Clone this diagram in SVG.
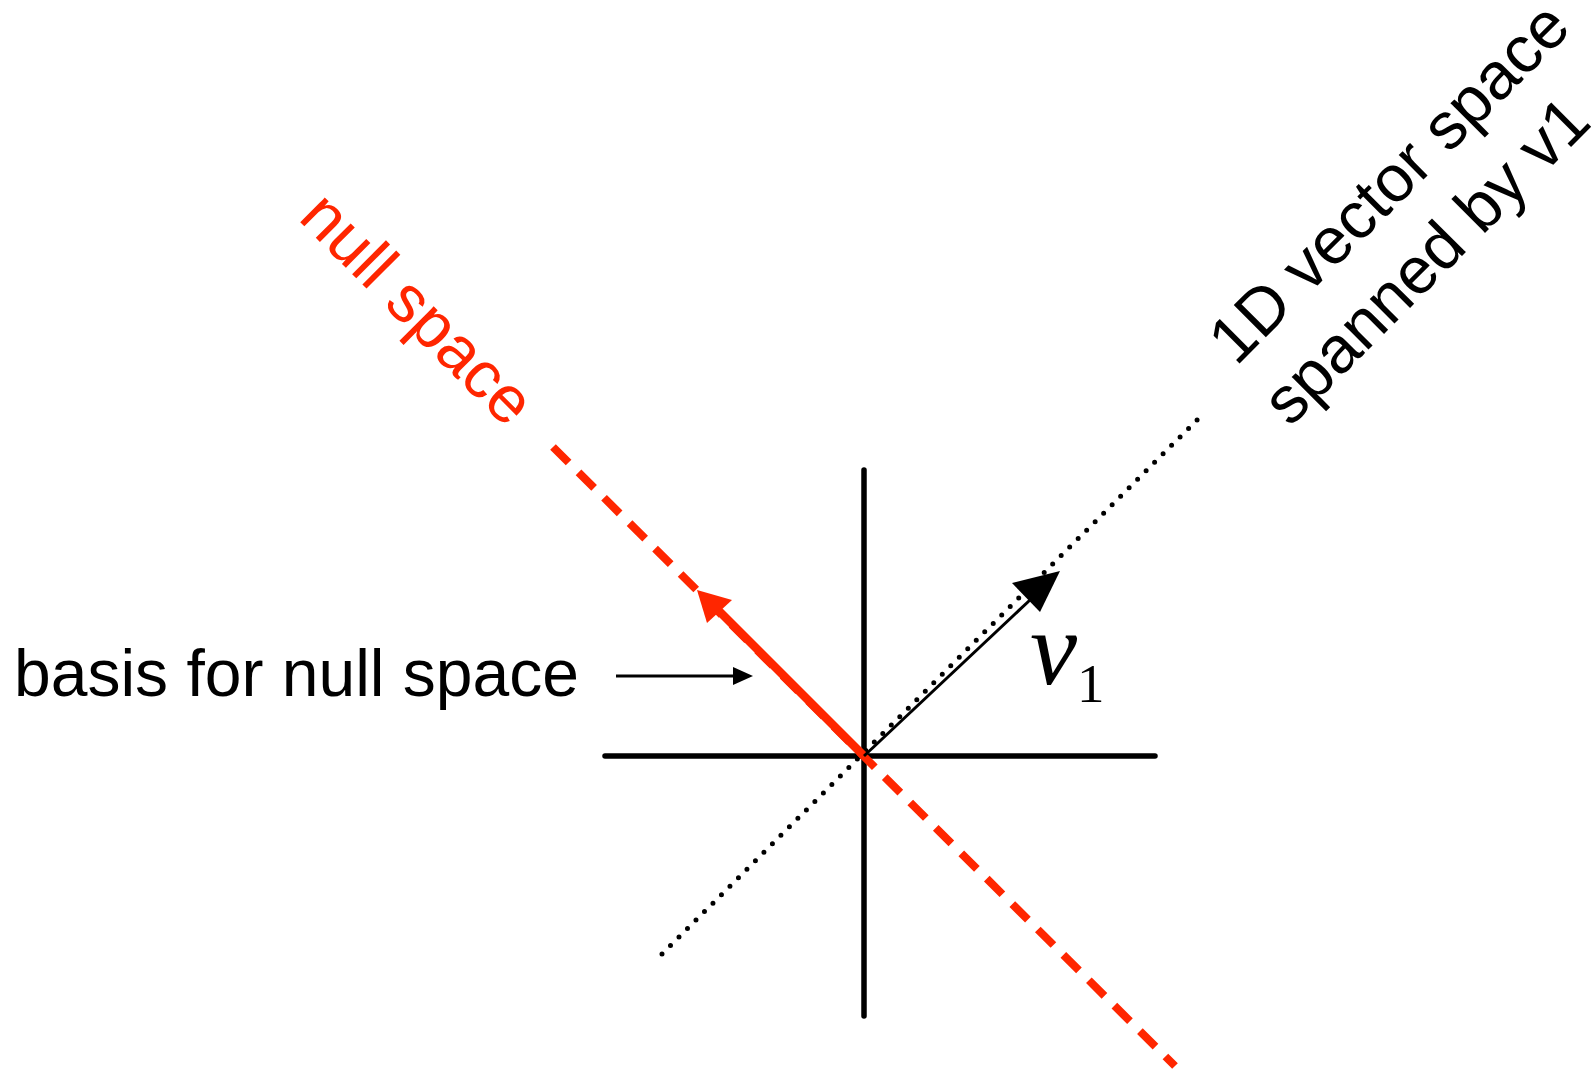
<svg xmlns="http://www.w3.org/2000/svg" width="1592" height="1070" viewBox="0 0 1592 1070">
  <style>
    .axis { stroke: #000; stroke-width: 5.5; stroke-linecap: round; fill: none; }
    .dotted { stroke: #000; stroke-width: 5; stroke-linecap: round; stroke-dasharray: 0 12; fill: none; }
    .reddash { stroke: #ff2600; stroke-width: 8; stroke-dasharray: 22 14; fill: none; }
    .label { font-family: "Liberation Sans", Arial, Helvetica, sans-serif; font-size: 66px; }
    .math { font-family: "Liberation Serif", "Times New Roman", serif; }
  </style>
  <rect width="1592" height="1070" fill="#fff"/>
  <g id="axes">
    <line class="axis" x1="864" y1="470" x2="864" y2="1016"/>
    <line class="axis" x1="605" y1="756" x2="1155" y2="756"/>
  </g>
  <g id="connectors">
    <line id="span-line" class="dotted" x1="662" y1="954" x2="1201" y2="416"/>
    <line id="null-line" class="reddash" x1="553" y1="447" x2="1175" y2="1066"/>
    <g id="null-basis-arrow">
      <line x1="864" y1="756" x2="716" y2="608" stroke="#ff2600" stroke-width="8.5"/>
      <polygon points="697,590 707,623 732,600" fill="#ff2600"/>
    </g>
    <g id="v1-arrow">
      <line x1="864" y1="756" x2="1030" y2="600" stroke="#000" stroke-width="3"/>
      <polygon points="1060,571 1012,583 1040,612" fill="#000"/>
    </g>
    <g id="pointer-arrow">
      <line x1="616" y1="676" x2="736" y2="676" stroke="#000" stroke-width="3"/>
      <polygon points="753,676 733,667 733,685" fill="#000"/>
    </g>
  </g>
  <g id="label-basis">
    <text class="label" x="14" y="696" fill="#000">basis for null space</text>
  </g>
  <g id="label-null-space">
    <text class="label" transform="translate(297,219) rotate(45)" fill="#ff2600">null space</text>
  </g>
  <g id="label-span">
    <text class="label" transform="translate(1236,367) rotate(-45)" fill="#000">1D vector space</text>
    <text class="label" transform="translate(1290,428) rotate(-45)" fill="#000">spanned by v1</text>
  </g>
  <g id="label-v1">
    <text class="math" x="1030" y="684" font-size="106" font-style="italic">v</text>
    <text class="math" x="1077" y="702" font-size="55">1</text>
  </g>
</svg>
